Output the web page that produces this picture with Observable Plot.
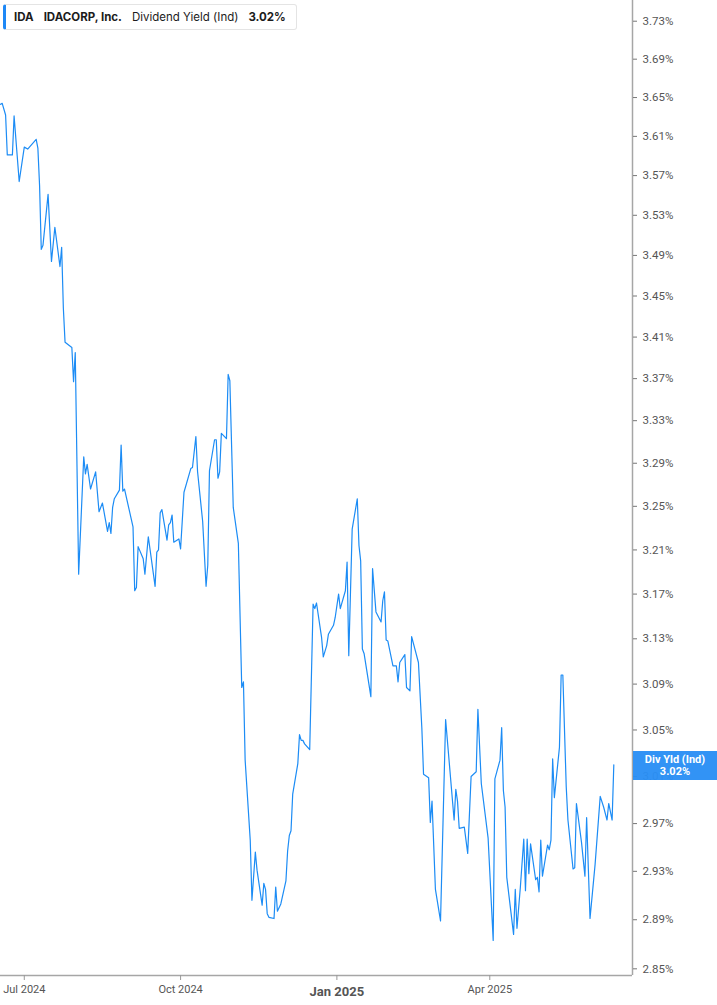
<!DOCTYPE html>
<html>
<head>
<meta charset="utf-8">
<script src="https://cdn.jsdelivr.net/npm/d3@7"></script>
<script src="https://cdn.jsdelivr.net/npm/@observablehq/plot@0.6"></script>
<style>
  html, body { margin: 0; padding: 0; background: #fff; }
  #wrap { position: relative; width: 717px; height: 1005px; overflow: hidden; background: #fff; }
  #legend {
    position: absolute; left: 3px; top: 4px; height: 26px; width: 294px;
    box-sizing: border-box; border: 1px solid #e4e4e4; border-left: 3px solid #1e88f6;
    border-radius: 3px; background: #fff;
    font-family: Inter, "Noto Sans", sans-serif; font-size: 11.5px; color: #1c1c1c;
    display: flex; align-items: center; white-space: nowrap; padding-left: 8px;
  }
  #legend b { font-weight: 700; }
  #legend span { margin-right: 10px; }
  #valbox {
    position: absolute; left: 633px; width: 84px; height: 29px; background: rgba(42,143,245,0.96);
    color: #fff; font-family: Roboto, "Noto Sans", sans-serif; font-weight: 700; font-size: 11px;
    line-height: 12px; text-align: center; box-sizing: border-box; padding-top: 3px;
  }
</style>
</head>
<body>
<div id="wrap"></div>
<script>
const ticker = "IDA";
const company = "IDACORP, Inc.";
const metric = "Dividend Yield (Ind)";
const shortMetric = "Div Yld (Ind)";

const dates = [
  "2024-06-17","2024-06-18","2024-06-20","2024-06-21","2024-06-24","2024-06-25","2024-06-28","2024-07-01","2024-07-03","2024-07-08",
  "2024-07-09","2024-07-10","2024-07-11","2024-07-12","2024-07-15","2024-07-17","2024-07-19","2024-07-22","2024-07-23","2024-07-24",
  "2024-07-25","2024-07-29","2024-07-30","2024-07-31","2024-08-02","2024-08-05","2024-08-06","2024-08-07","2024-08-09","2024-08-12",
  "2024-08-14","2024-08-16","2024-08-19","2024-08-20","2024-08-21","2024-08-22","2024-08-23","2024-08-26","2024-08-27","2024-08-28",
  "2024-08-29","2024-09-03","2024-09-04","2024-09-05","2024-09-06","2024-09-09","2024-09-10","2024-09-12","2024-09-16","2024-09-17",
  "2024-09-18","2024-09-19","2024-09-20","2024-09-23","2024-09-24","2024-09-25","2024-09-26","2024-09-27","2024-09-30","2024-10-01",
  "2024-10-03","2024-10-07","2024-10-08","2024-10-10","2024-10-11","2024-10-14","2024-10-16","2024-10-17","2024-10-18","2024-10-21",
  "2024-10-22","2024-10-23","2024-10-24","2024-10-25","2024-10-28","2024-10-29","2024-10-30","2024-11-01","2024-11-04","2024-11-06",
  "2024-11-07","2024-11-08","2024-11-11","2024-11-12","2024-11-14","2024-11-15","2024-11-18","2024-11-19","2024-11-20","2024-11-21",
  "2024-11-22","2024-11-25","2024-11-26","2024-11-27","2024-11-29","2024-12-02","2024-12-03","2024-12-04","2024-12-05","2024-12-06",
  "2024-12-09","2024-12-10","2024-12-11","2024-12-12","2024-12-13","2024-12-16","2024-12-18","2024-12-19","2024-12-20","2024-12-23",
  "2024-12-24","2024-12-26","2024-12-27","2024-12-30","2024-12-31","2025-01-02","2025-01-03","2025-01-06","2025-01-07","2025-01-08",
  "2025-01-10","2025-01-13","2025-01-14","2025-01-15","2025-01-16","2025-01-17","2025-01-21","2025-01-22","2025-01-24","2025-01-27",
  "2025-01-28","2025-01-29","2025-01-30","2025-01-31","2025-02-03","2025-02-05","2025-02-06","2025-02-07","2025-02-10","2025-02-11",
  "2025-02-13","2025-02-14","2025-02-18","2025-02-20","2025-02-21","2025-02-24","2025-02-25","2025-02-26","2025-02-28","2025-03-03",
  "2025-03-06","2025-03-11","2025-03-12","2025-03-13","2025-03-14","2025-03-17","2025-03-19","2025-03-21","2025-03-24","2025-03-25",
  "2025-03-27","2025-03-31","2025-04-03","2025-04-04","2025-04-07","2025-04-08","2025-04-09","2025-04-10","2025-04-11","2025-04-15",
  "2025-04-16","2025-04-17","2025-04-19","2025-04-21","2025-04-22","2025-04-23","2025-04-24","2025-04-25","2025-04-28","2025-04-29",
  "2025-04-30","2025-05-01","2025-05-02","2025-05-05","2025-05-06","2025-05-07","2025-05-08","2025-05-09","2025-05-12","2025-05-13",
  "2025-05-14","2025-05-16","2025-05-17","2025-05-20","2025-05-21","2025-05-22","2025-05-25","2025-05-27","2025-05-28","2025-05-30",
  "2025-06-02","2025-06-05","2025-06-07","2025-06-09","2025-06-10","2025-06-12","2025-06-13"
];

const yields = [
  3.643,3.644,3.632,3.591,3.591,3.631,3.564,3.599,3.597,3.607,
  3.598,3.560,3.496,3.500,3.551,3.484,3.518,3.479,3.498,3.438,
  3.405,3.400,3.367,3.395,3.188,3.296,3.280,3.289,3.266,3.282,
  3.245,3.253,3.227,3.235,3.225,3.249,3.257,3.265,3.307,3.264,
  3.266,3.231,3.173,3.176,3.213,3.202,3.188,3.222,3.177,3.208,
  3.210,3.244,3.247,3.219,3.233,3.235,3.242,3.217,3.220,3.211,
  3.263,3.285,3.286,3.315,3.282,3.236,3.177,3.196,3.283,3.312,
  3.312,3.276,3.282,3.318,3.313,3.374,3.368,3.249,3.216,3.087,
  3.092,3.024,2.956,2.906,2.946,2.931,2.902,2.920,2.915,2.895,
  2.892,2.891,2.917,2.897,2.903,2.922,2.947,2.960,2.964,2.995,
  3.021,3.046,3.041,3.041,3.038,3.033,3.161,3.157,3.162,3.131,
  3.114,3.124,3.134,3.142,3.149,3.170,3.157,3.173,3.199,3.115,
  3.229,3.257,3.214,3.200,3.121,3.117,3.079,3.193,3.154,3.145,
  3.164,3.172,3.129,3.128,3.106,3.106,3.092,3.109,3.116,3.087,
  3.084,3.132,3.109,3.052,3.012,3.009,2.971,2.989,2.915,2.889,
  3.059,2.973,2.999,2.989,2.966,2.967,2.945,3.010,3.014,3.068,
  3.004,2.958,2.873,3.008,3.024,3.052,2.998,2.984,2.925,2.878,
  2.915,2.883,2.917,2.957,2.914,2.957,2.928,2.953,2.923,2.925,
  2.913,2.956,2.926,2.952,2.948,2.956,3.025,2.992,3.035,3.098,
  3.098,3.001,2.973,2.932,2.933,2.987,2.954,2.926,2.975,2.891,
  2.936,2.993,2.984,2.973,2.987,2.973,3.020
];

const yTicks = [2.85,2.89,2.93,2.97,3.01,3.05,3.09,3.13,3.17,3.21,3.25,3.29,3.33,3.37,3.41,3.45,3.49,3.53,3.57,3.61,3.65,3.69,3.73];
const xTickDates = ["2024-07-01","2024-10-01","2025-04-01"];
const xTickLabels = ["Jul 2024","Oct 2024","Apr 2025"];
const xYearDate = ["2025-01-01"];
const xYearLabel = ["Jan 2025"];

const xDomain = [new Date("2024-06-17"), new Date("2025-06-24")];
const yDomain = [2.8446, 3.752];

const data = dates.map((d, i) => ({date: new Date(d), value: yields[i]}));

const chart = Plot.plot({
  width: 717,
  height: 1005,
  marginLeft: 0,
  marginRight: 85,
  marginTop: 0,
  marginBottom: 30,
  style: {fontFamily: "Roboto, 'Noto Sans', sans-serif", background: "#fff", overflow: "visible"},
  x: {type: "utc", domain: xDomain},
  y: {type: "log", domain: yDomain},
  marks: [
    Plot.lineY(data, {x: "date", y: "value", stroke: "#1c8cf5", strokeWidth: 1.2}),
    Plot.ruleX([xDomain[1]], {stroke: "#a6a6a6", strokeWidth: 1.5}),
    Plot.ruleY([yDomain[0]], {stroke: "#a6a6a6", strokeWidth: 1.5}),
    Plot.axisY(yTicks, {
      anchor: "right", tickSize: 4, tickPadding: 6,
      tickFormat: d => d.toFixed(2) + "%",
      fontSize: 11.5, fill: "#555", stroke: "#777", label: null
    }),
    Plot.axisX(xTickDates.map(d => new Date(d)), {
      anchor: "bottom", tickSize: 5, tickPadding: 5,
      tickFormat: (d, i) => xTickLabels[i],
      fontSize: 11, fill: "#555", stroke: "#999", label: null
    }),
    Plot.axisX(xYearDate.map(d => new Date(d)), {
      anchor: "bottom", tickSize: 5, tickPadding: 6,
      tickFormat: (d, i) => xYearLabel[i],
      fontSize: 13, fontWeight: "bold", fill: "#555", stroke: "#999", label: null
    })
  ]
});

const wrap = document.getElementById("wrap");
wrap.appendChild(chart);

const last = yields[yields.length - 1];
const legend = document.createElement("div");
legend.id = "legend";
legend.innerHTML = `<span><b>${ticker}</b></span><span><b>${company}</b></span><span>${metric}</span><span><b>${last.toFixed(2)}%</b></span>`;
wrap.appendChild(legend);

const yPos = chart.scale("y").apply(last);
const box = document.createElement("div");
box.id = "valbox";
box.style.top = (yPos - 13) + "px";
box.innerHTML = `${shortMetric}<br>${last.toFixed(2)}%`;
wrap.appendChild(box);
</script>
</body>
</html>
